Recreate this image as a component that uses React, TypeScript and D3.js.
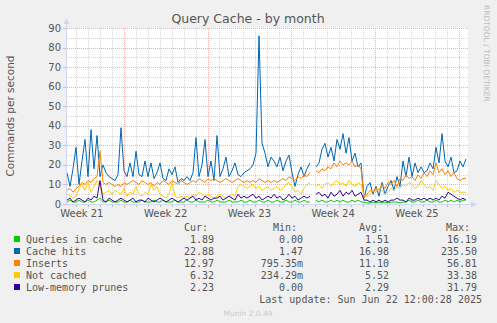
import * as d3 from "d3";

const W = 497;
const H = 323;
const plot = { left: 67, right: 468, top: 28, bottom: 204 };

// one sample every ~6 hours, left to right; null = no data
const queriesInCache = [
  1, 2, 1, 1, 2, 1, 1, 2, 1, 1, 2, 3, 1, 1, 2, 1, 1, 1, 2, 1,
  1, 2, 1, 1, 1, 2, 1, 1, 1, 2, 1, 1, 2, 1, 1, 1, 2, 1, 1, 1,
  2, 1, 1, 2, 1, 1, 1, 2, 1, 1, 2, 1, 1, 1, 2, 1, 1, 1, 2, 1,
  1, 2, 1, 1, 2, 1, 1, 2, 1, 1, 2, 1, 1, 2, 1, 1, 2, 1, 1, 2,
  1, 1, null, 2, 1, 2, 1, 1, 2, 1, 2, 1, 2, 1, 1, 2, 1, 2, 1, 1,
  0.5, 0.5, 1, 0.5, 1, 0.5, 1, 0.5, 1, 1, 1, 0.5, 1, 1, 2, 1, 1, 2, 1, 1,
  2, 1, 1, 2, 1, 1, 2, 1, 2, 1, 2, 1, 2, 2,
];
const cacheHits = [
  16, 9, 18, 29, 10, 22, 33, 14, 38, 18, 35, 14, 20, 16, 14, 13, 12, 15, 39, 17,
  14, 21, 14, 27, 15, 14, 22, 14, 21, 13, 16, 21, 13, 12, 18, 15, 19, 11, 13, 12,
  14, 12, 16, 34, 14, 20, 33, 14, 22, 12, 35, 14, 18, 24, 14, 17, 21, 15, 14, 16,
  17, 18, 20, 26, 86, 31, 26, 19, 24, 22, 19, 24, 17, 22, 25, 16, 9, 15, 19, 14,
  18, 21, null, 19, 21, 28, 31, 24, 29, 22, 33, 28, 36, 26, 34, 22, 26, 19, 21, 3,
  9, 11, 5, 9, 4, 11, 5, 9, 12, 7, 14, 9, 22, 14, 24, 14, 21, 16, 19, 16,
  17, 21, 18, 29, 21, 36, 22, 19, 24, 16, 17, 22, 19, 23,
];
const inserts = [
  7, 8, 6, 8, 9, 11, 10, 12, 11, 13, 14, 27, 11, 10, 11, 10, 9, 10, 9, 11,
  10, 11, 12, 11, 10, 12, 11, 10, 11, 9, 11, 10, 12, 11, 10, 12, 11, 10, 12, 11,
  10, 11, 12, 11, 13, 12, 11, 13, 12, 13, 12, 11, 12, 13, 12, 11, 12, 13, 12, 11,
  12, 11, 12, 11, 13, 12, 11, 12, 11, 12, 11, 12, 13, 12, 14, 13, 12, 14, 13, 15,
  14, 16, null, 17, 16, 18, 17, 19, 18, 21, 19, 22, 20, 21, 20, 22, 19, 20, 18, 3,
  5, 7, 6, 8, 7, 10, 8, 11, 10, 12, 9, 13, 12, 15, 13, 14, 12, 15, 13, 16,
  14, 17, 15, 21, 16, 18, 15, 17, 14, 16, 13, 12, 13, 13,
];
const notCached = [
  5, 4, 3, 4, 8, 10, 7, 11, 6, 9, 12, 9, 5, 6, 7, 5, 7, 6, 5, 8,
  4, 6, 5, 9, 5, 4, 6, 5, 10, 7, 9, 5, 4, 3, 5, 11, 4, 3, 4, 3,
  4, 3, 5, 4, 6, 5, 4, 5, 4, 3, 4, 5, 4, 3, 4, 5, 4, 9, 10, 9,
  8, 9, 10, 8, 9, 7, 8, 9, 7, 8, 9, 7, 8, 10, 11, 9, 6, 7, 5, 8,
  10, 11, null, 9, 10, 8, 10, 11, 9, 11, 12, 10, 11, 9, 12, 10, 9, 11, 10, 4,
  4, 5, 7, 6, 8, 7, 5, 6, 8, 7, 9, 8, 10, 9, 11, 10, 8, 9, 12, 10,
  8, 9, 7, 12, 10, 8, 9, 7, 8, 6, 7, 6, 6, 6,
];
const lowMemoryPrunes = [
  2, 3, 1, 2, 3, 2, 1, 3, 2, 4, 3, 12, 2, 1, 3, 2, 1, 2, 3, 2,
  1, 2, 3, 1, 2, 2, 1, 3, 2, 1, 2, 3, 2, 1, 2, 3, 2, 1, 2, 3,
  2, 3, 4, 2, 3, 2, 4, 3, 2, 3, 3, 4, 2, 3, 4, 3, 2, 5, 3, 4,
  3, 4, 5, 3, 4, 2, 3, 4, 3, 5, 3, 4, 2, 3, 5, 3, 4, 2, 3, 4,
  3, 4, null, 5, 6, 4, 5, 3, 6, 4, 5, 7, 4, 6, 5, 7, 4, 5, 6, 2,
  2, 1, 2, 1, 2, 1, 2, 1, 2, 2, 3, 2, 2, 1, 3, 2, 2, 3, 2, 3,
  2, 3, 2, 3, 2, 4, 3, 6, 5, 4, 3, 2, 3, 2,
];

const seriesNames = ["Queries in cache", "Cache hits", "Inserts", "Not cached", "Low-memory prunes"];
const seriesColors = ["#00cc00", "#0066b3", "#ff8000", "#ffcc00", "#330099"];
const seriesData = [queriesInCache, cacheHits, inserts, notCached, lowMemoryPrunes];

const curValues = ["1.89", "22.88", "12.97", "6.32", "2.23"];
const minValues = ["0.00", "1.47", "795.35m", "234.29m", "0.00"];
const avgValues = ["1.51", "16.98", "11.10", "5.52", "2.29"];
const maxValues = ["16.19", "235.50", "56.81", "33.38", "31.79"];

const yTicks = [0, 10, 20, 30, 40, 50, 60, 70, 80, 90];
const weekLabels = ["Week 21", "Week 22", "Week 23", "Week 24", "Week 25"];
// days shown, and offset of first week boundary (in days)
const daysShown = 33.5;
const firstWeekStart = 4.74;

const FONT = "'DejaVu Sans', sans-serif";
const MONO = "'DejaVu Sans Mono', monospace";
const TEXT = "#555";
const GRID = "#d4d4d4";
const MGRID = "#efb0b0";

export default function App() {
  const n = cacheHits.length;
  const x = d3.scaleLinear([0, n - 1], [plot.left, plot.right - 2]);
  const xDay = d3.scaleLinear([0, daysShown], [plot.left, plot.right]);
  const y = d3.scaleLinear([0, 90], [plot.bottom, plot.top]);

  const line = d3
    .line<number | null>()
    .defined((d) => d != null)
    .x((_, i) => x(i))
    .y((d) => y(d as number));

  const dayLines: { px: number; major: boolean }[] = [];
  for (let d = firstWeekStart - 7; d <= daysShown; d += 1) {
    if (d <= 0.2) continue;
    const k = Math.round(d - firstWeekStart);
    dayLines.push({ px: Math.round(xDay(d)) + 0.5, major: k % 7 === 0 });
  }
  const minorY = d3.range(5, 90, 10);

  const legendTop = 240;
  const rowH = 12;

  return (
    <svg width={W} height={H} style={{ position: "absolute", left: 0, top: 0, background: "#f0f0f0" }}>
      <rect x={0} y={0} width={W} height={H} fill="#f0f0f0" />
      <rect x={plot.left} y={plot.top} width={plot.right - plot.left} height={plot.bottom - plot.top} fill="#fff" />

      {/* grid */}
      <g shapeRendering="crispEdges" strokeWidth={1} strokeDasharray="1,1">
        {minorY.map((v) => (
          <line key={"my" + v} x1={plot.left} x2={plot.right} y1={Math.round(y(v)) + 0.5} y2={Math.round(y(v)) + 0.5} stroke={GRID} />
        ))}
        {dayLines.filter((d) => !d.major).map((d, i) => (
          <line key={"dx" + i} x1={d.px} x2={d.px} y1={plot.top} y2={plot.bottom} stroke={GRID} />
        ))}
        {yTicks.slice(1).map((v) => (
          <line key={"My" + v} x1={plot.left} x2={plot.right} y1={Math.round(y(v)) + 0.5} y2={Math.round(y(v)) + 0.5} stroke={MGRID} />
        ))}
        {dayLines.filter((d) => d.major).map((d, i) => (
          <line key={"Mx" + i} x1={d.px} x2={d.px} y1={plot.top} y2={plot.bottom} stroke={MGRID} />
        ))}
      </g>

      {/* series */}
      {seriesData.map((s, i) => (
        <path key={seriesNames[i]} d={line(s) || ""} fill="none" stroke={seriesColors[i]} strokeWidth={1} />
      ))}

      {/* axes */}
      <g stroke="#cfd6f8" shapeRendering="crispEdges">
        <line x1={plot.left - 0.5} x2={plot.left - 0.5} y1={plot.top - 4} y2={plot.bottom + 0.5} />
        <line x1={plot.left - 0.5} x2={plot.right + 3} y1={plot.bottom + 0.5} y2={plot.bottom + 0.5} />
      </g>
      <g shapeRendering="crispEdges">
        {dayLines.map((d, i) => (
          <line key={"tk" + i} x1={d.px} x2={d.px} y1={plot.bottom + 1} y2={plot.bottom + (d.major ? 4 : 3)} stroke={d.major ? MGRID : "#bbb"} />
        ))}
        {yTicks.map((v) => (
          <line key={"ytk" + v} x1={plot.left - 4} x2={plot.left - 1} y1={Math.round(y(v)) + 0.5} y2={Math.round(y(v)) + 0.5} stroke={MGRID} />
        ))}
      </g>
      <path d={`M${plot.left - 3.5},${plot.top - 4} L${plot.left - 0.5},${plot.top - 10} L${plot.left + 2.5},${plot.top - 4} Z`} fill="#cfd6f8" />
      <path d={`M${plot.right + 3},${plot.bottom - 2.5} L${plot.right + 9},${plot.bottom + 0.5} L${plot.right + 3},${plot.bottom + 3.5} Z`} fill="#cfd6f8" />

      {/* y ticks */}
      {yTicks.map((v) => (
        <text key={"t" + v} x={61} y={y(v) + 3.5} textAnchor="end" fontFamily={FONT} fontSize={10} fill={TEXT}>
          {v}
        </text>
      ))}
      {/* week labels */}
      {weekLabels.map((w, i) => (
        <text key={w} x={xDay(firstWeekStart - 3.5 + 7 * i)} y={217} textAnchor="middle" fontFamily={FONT} fontSize={10} fill={TEXT}>
          {w}
        </text>
      ))}

      <text x={248} y={23} textAnchor="middle" fontFamily={FONT} fontSize={12.5} fill={TEXT}>
        Query Cache - by month
      </text>
      <text transform={`translate(14,${(plot.top + plot.bottom) / 2}) rotate(-90)`} textAnchor="middle" fontFamily={FONT} fontSize={10.5} fill={TEXT}>
        Commands per second
      </text>
      <text transform="translate(484,5) rotate(90)" textAnchor="start" fontFamily={FONT} fontSize={7.5} fill="#bbb">
        RRDTOOL / TOBI OETIKER
      </text>

      {/* legend */}
      <g fontFamily={MONO} fontSize={10} fill={TEXT}>
        <text x={208} y={legendTop - 9} textAnchor="end">Cur:</text>
        <text x={297} y={legendTop - 9} textAnchor="end">Min:</text>
        <text x={383} y={legendTop - 9} textAnchor="end">Avg:</text>
        <text x={470} y={legendTop - 9} textAnchor="end">Max:</text>
        {seriesNames.map((name, i) => {
          const yy = legendTop + rowH * i + 3;
          return (
            <g key={name}>
              <rect x={14} y={yy - 7} width={6} height={6} fill={seriesColors[i]} />
              <text x={26} y={yy}>{name}</text>
              <text x={214} y={yy} textAnchor="end">{curValues[i]}</text>
              <text x={303} y={yy} textAnchor="end">{minValues[i]}</text>
              <text x={389} y={yy} textAnchor="end">{avgValues[i]}</text>
              <text x={477} y={yy} textAnchor="end">{maxValues[i]}</text>
            </g>
          );
        })}
        <text x={482} y={legendTop + rowH * 5 + 3} textAnchor="end">
          Last update: Sun Jun 22 12:00:28 2025
        </text>
      </g>
      <text x={248} y={316} textAnchor="middle" fontFamily={FONT} fontSize={7.5} fill="#ccc">
        Munin 2.0.49
      </text>
    </svg>
  );
}
